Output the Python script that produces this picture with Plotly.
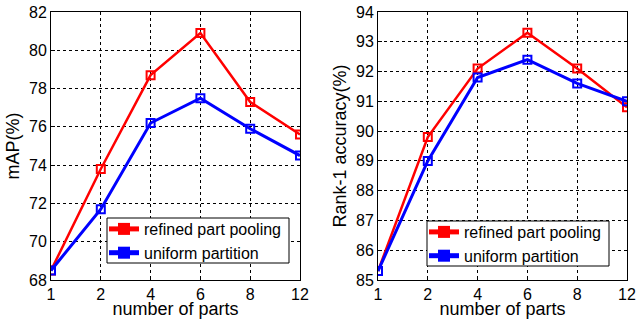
import plotly.graph_objects as go

parts = ["1", "2", "4", "6", "8", "12"]
map_refined = [68.5, 73.8, 78.7, 80.9, 77.3, 75.6]
map_uniform = [68.5, 71.7, 76.2, 77.5, 75.9, 74.5]
r1_refined = [85.3, 89.8, 92.1, 93.3, 92.1, 90.8]
r1_uniform = [85.3, 89.0, 91.8, 92.4, 91.6, 91.0]
map_ticks = [68, 70, 72, 74, 76, 78, 80, 82]
r1_ticks = [85, 86, 87, 88, 89, 90, 91, 92, 93, 94]
series_names = ["refined part pooling", "uniform partition"]

W, H = 636, 319
RED = "#FF0000"
BLUE = "#0000FF"
FONT = "Liberation Sans, Arial, sans-serif"

def px_x(p):
    return p / W

def px_y(p):
    return 1 - p / H

fig = go.Figure()

def add(x, y, color, xa, ya, width):
    fig.add_trace(go.Scatter(
        x=x, y=y, mode="lines+markers", showlegend=False,
        line=dict(color=color, width=width),
        marker=dict(symbol="square-open", size=8, color=color, line=dict(width=2, color=color)),
        xaxis=xa, yaxis=ya,
    ))

def add_legend(name, color, xa, ya, legend, width):
    fig.add_trace(go.Scatter(
        x=[None], y=[None], name=name, mode="lines+markers",
        line=dict(color=color, width=width),
        marker=dict(symbol="square", size=9, color=color),
        xaxis=xa, yaxis=ya, legend=legend,
    ))

add(parts, map_refined, RED, "x", "y", 2.5)
add(parts, map_uniform, BLUE, "x", "y", 3)
add(parts, r1_refined, RED, "x2", "y2", 2.5)
add(parts, r1_uniform, BLUE, "x2", "y2", 3)
add_legend(series_names[0], RED, "x", "y", "legend", 3)
add_legend(series_names[1], BLUE, "x", "y", "legend", 3)
add_legend(series_names[0], RED, "x2", "y2", "legend2", 3)
add_legend(series_names[1], BLUE, "x2", "y2", "legend2", 3)

ydom = [px_y(280), px_y(12)]
common_axis = dict(
    showline=True, mirror=True, linecolor="black", linewidth=1,
    showgrid=True, gridcolor="black", griddash="dot", gridwidth=1,
    ticks="inside", ticklen=4, tickcolor="black",
    tickfont=dict(size=16, color="black", family=FONT),
    zeroline=False, automargin=False,
)

legend_common = dict(xanchor="left", yanchor="top", borderwidth=0,
                     bgcolor="rgba(0,0,0,0)", font=dict(size=16, family=FONT),
                     tracegroupgap=0, itemsizing="constant")

fig.update_layout(
    width=W, height=H,
    margin=dict(l=0, r=0, t=0, b=0),
    paper_bgcolor="white", plot_bgcolor="white",
    font=dict(family=FONT, color="black"),
    xaxis=dict(domain=[px_x(51), px_x(300)], type="category", range=[0, 5],
               title=dict(text="number of parts", font=dict(size=18), standoff=6),
               anchor="y", **common_axis),
    yaxis=dict(domain=ydom, range=[68, 82], tickvals=map_ticks,
               title=dict(text="mAP(%)", font=dict(size=18), standoff=4),
               anchor="x", **common_axis),
    xaxis2=dict(domain=[px_x(378), px_x(627)], type="category", range=[0, 5],
                title=dict(text="number of parts", font=dict(size=18), standoff=6),
                anchor="y2", **common_axis),
    yaxis2=dict(domain=ydom, range=[85, 94], tickvals=r1_ticks,
                title=dict(text="Rank-1 accuracy(%)", font=dict(size=18), standoff=4),
                anchor="x2", **common_axis),
    legend=dict(x=px_x(104), y=px_y(212), **legend_common),
    legend2=dict(x=px_x(424), y=px_y(215), **legend_common),
    showlegend=True,
    shapes=[
        dict(type="rect", xref="paper", yref="paper", layer="above",
             x0=px_x(107), x1=px_x(289), y0=px_y(263), y1=px_y(218),
             line=dict(color="black", width=1), fillcolor="white"),
        dict(type="rect", xref="paper", yref="paper", layer="above",
             x0=px_x(427), x1=px_x(609), y0=px_y(266), y1=px_y(221),
             line=dict(color="black", width=1), fillcolor="white"),
    ],
)

fig.write_html("out.html", config={"displayModeBar": False},
               post_script="document.body.style.margin='0';document.body.style.padding='0';")
